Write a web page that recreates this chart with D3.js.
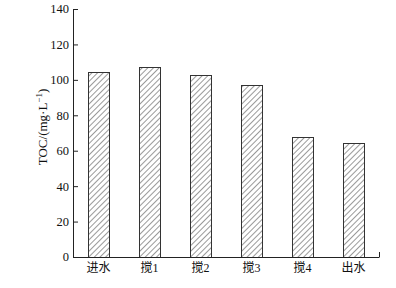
<!DOCTYPE html>
<html><head><meta charset="utf-8">
<script src="https://cdn.jsdelivr.net/npm/d3@7"></script>
<style>body{margin:0;background:#fff}svg{display:block}</style>
</head><body>
<svg id="c" width="396" height="288"></svg>
<script>
const categories = ["进水", "搅1", "搅2", "搅3", "搅4", "出水"];
const values = [104.6, 107.1, 102.6, 96.9, 67.7, 64.2];
const yTicks = [0, 20, 40, 60, 80, 100, 120, 140];

(function () {
const svg = d3.select("#c");
const mLeft = 73, mRight = 379, mTop = 9, mBottom = 257;
const x = d3.scaleBand().domain(categories).range([mLeft, mRight]).padding(0);
const y = d3.scaleLinear().domain([0, 140]).range([mBottom, mTop]);
const barW = 21;

const defs = svg.append("defs");
const pat = defs.append("pattern").attr("id", "hatch").attr("patternUnits", "userSpaceOnUse")
  .attr("width", 4).attr("height", 4).attr("patternTransform", "rotate(45)");
pat.append("rect").attr("width", 4).attr("height", 4).attr("fill", "#fff");
pat.append("line").attr("x1", 0).attr("y1", 0).attr("x2", 0).attr("y2", 4)
  .attr("stroke", "#555").attr("stroke-width", 1.2);

svg.append("g").selectAll("rect").data(values).join("rect")
  .attr("x", (d, i) => x(categories[i]) + x.bandwidth() / 2 - barW / 2 + 0.5)
  .attr("y", d => Math.round(y(d)) + 0.5)
  .attr("width", barW)
  .attr("height", d => mBottom - Math.round(y(d)))
  .attr("fill", "url(#hatch)")
  .attr("stroke", "#333").attr("stroke-width", 1);

// y axis
const ya = svg.append("g").attr("transform", `translate(${mLeft},0)`)
  .call(d3.axisRight(y).tickValues(yTicks).tickSize(5).tickFormat(""));
ya.select(".domain").attr("d", `M0.5,${mBottom}V${mTop}`).attr("stroke", "#222");
ya.selectAll(".tick line").attr("stroke", "#222");
svg.append("g").selectAll("text").data(yTicks).join("text")
  .attr("x", mLeft - 4).attr("y", d => y(d)).attr("dy", "0.35em")
  .attr("text-anchor", "end")
  .attr("font-family", "Liberation Serif, Times New Roman, serif")
  .attr("font-size", 12.5).attr("fill", "#111").text(d => d);

// x axis
svg.append("line").attr("x1", mLeft).attr("x2", mRight + 0.5)
  .attr("y1", mBottom + 0.5).attr("y2", mBottom + 0.5).attr("stroke", "#222");
svg.append("line").attr("x1", mRight + 0.5).attr("x2", mRight + 0.5)
  .attr("y1", mBottom).attr("y2", mBottom - 5).attr("stroke", "#222");

svg.append("g").selectAll("text").data(categories).join("text")
  .attr("x", d => x(d) + x.bandwidth() / 2).attr("y", 272)
  .attr("text-anchor", "middle")
  .attr("font-family", "Liberation Serif, Noto Sans CJK SC, serif")
  .attr("font-size", 12).attr("fill", "#111").text(d => d);

// y label
const lab = svg.append("text")
  .attr("transform", "translate(47,127) rotate(-90)")
  .attr("text-anchor", "middle")
  .attr("font-family", "Liberation Serif, Times New Roman, serif")
  .attr("font-size", 13).attr("fill", "#111");
lab.append("tspan").text("TOC/(mg·L");
lab.append("tspan").attr("dy", -5).attr("font-size", 9).text("−1");
lab.append("tspan").attr("dy", 5).text(")");
})();
</script>
</body></html>
